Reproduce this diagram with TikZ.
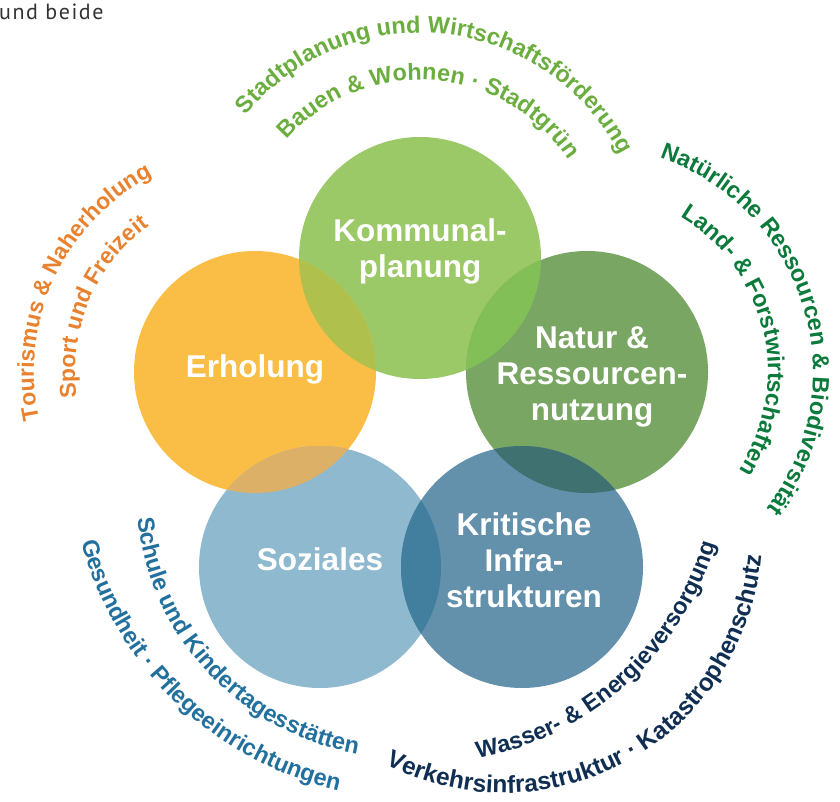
\documentclass[tikz,border=0pt]{standalone}
\usepackage{fontspec}
\setmainfont{Liberation Sans}
\newfontfamily\notefont{PT Sans}
\usetikzlibrary{decorations.text}
\definecolor{cK}{HTML}{9BC968}
\definecolor{cE}{HTML}{FABD45}
\definecolor{cN}{HTML}{79A663}
\definecolor{cS}{HTML}{8EB9CF}
\definecolor{cR}{HTML}{6391AC}
\definecolor{oKE}{HTML}{AFC04C}
\definecolor{oKN}{HTML}{82C057}
\definecolor{oNR}{HTML}{3F7170}
\definecolor{oRS}{HTML}{427E9D}
\definecolor{oSE}{HTML}{DDB067}
\definecolor{tK}{HTML}{6BAE3F}
\definecolor{tE}{HTML}{E9822F}
\definecolor{tN}{HTML}{0B7A3B}
\definecolor{tS}{HTML}{22709E}
\definecolor{tR}{HTML}{0F2E52}
\newcommand{\arctext}[7]{%
  \path[decorate, decoration={text along path, text align=center, text color=#5,
    text={|\fontsize{#6}{#6}\selectfont\bfseries|#7}}]
    (#1) ++(#3:#2pt) arc[start angle=#3, end angle=#4, radius=#2pt];}
\begin{document}
\begin{tikzpicture}[x=1pt,y=1pt,
  disc/.style={circle, minimum size=242pt, inner sep=0pt, draw=none},
  lab/.style={text=white, font=\fontsize{31.5}{36}\selectfont\bfseries, align=center, inner sep=0pt}]
\useasboundingbox (0,0) rectangle (840,801);
% circles
\node[disc, fill=cK] (K) at (420,543) {};
\node[disc, fill=cE] (E) at (255,429) {};
\node[disc, fill=cN] (N) at (587,429) {};
\node[disc, fill=cS] (S) at (320,234) {};
\node[disc, fill=cR] (R) at (522,234) {};
% overlaps
\begin{scope}\clip (K.center) circle[radius=121pt]; \fill[oKE] (E.center) circle[radius=121pt];\end{scope}
\begin{scope}\clip (K.center) circle[radius=121pt]; \fill[oKN] (N.center) circle[radius=121pt];\end{scope}
\begin{scope}\clip (N.center) circle[radius=121pt]; \fill[oNR] (R.center) circle[radius=121pt];\end{scope}
\begin{scope}\clip (R.center) circle[radius=121pt]; \fill[oRS] (S.center) circle[radius=121pt];\end{scope}
\begin{scope}\clip (S.center) circle[radius=121pt]; \fill[oSE] (E.center) circle[radius=121pt];\end{scope}
% labels
\node[lab] (Klab) at (420,550) {Kommunal-\\planung};
\node[lab] (Elab) at (255,432) {Erholung};
\node[lab] (Nlab) at (592,424) {Natur \&\\Ressourcen-\\nutzung};
\node[lab] (Slab) at (320,242) {Soziales};
\node[lab] (Rlab) at (524,241) {Kritische\\Infra-\\strukturen};
% arc centres for the lower texts
\coordinate (blin) at (404,311);
\coordinate (blout) at (415,347);
\coordinate (brin) at (420,346);
\coordinate (brout) at (504,266);
% curved texts
\arctext{K.center}{225}{184}{-16}{tK}{23.5}{Stadtplanung und Wirtschaftsförderung}
\arctext{K.center}{178}{186}{-14}{tK}{23.5}{Bauen {\&} Wohnen · Stadtgrün}
\arctext{E.center}{221}{255}{55}{tE}{23}{Tourismus {\&} Naherholung}
\arctext{E.center}{180}{257}{57}{tE}{23}{Sport und Freizeit}
\arctext{N.center}{226}{117}{-83}{tN}{23.5}{Natürliche Ressourcen {\&} Biodiversität}
\arctext{N.center}{181}{113}{-87}{tN}{23.5}{Land- {\&} Forstwirtschaften}
\arctext{blin}{268}{143}{303}{tS}{23.5}{Schule und Kindertagesstätten}
\arctext{blout}{345}{160}{292}{tS}{23.5}{Gesundheit · Pflegeeinrichtungen}
\arctext{brin}{309}{242}{382}{tR}{23.5}{Wasser- {\&} Energieversorgung}
\arctext{brout}{258}{209}{389}{tR}{24.5}{Verkehrsinfrastruktur · Katastrophenschutz}
% note
\node[anchor=base west, inner sep=0pt, text=black!80, font=\notefont\fontsize{22}{22}\selectfont\addfontfeature{LetterSpace=7}] (note) at (-1,781) {und beide};
\end{tikzpicture}
\end{document}
